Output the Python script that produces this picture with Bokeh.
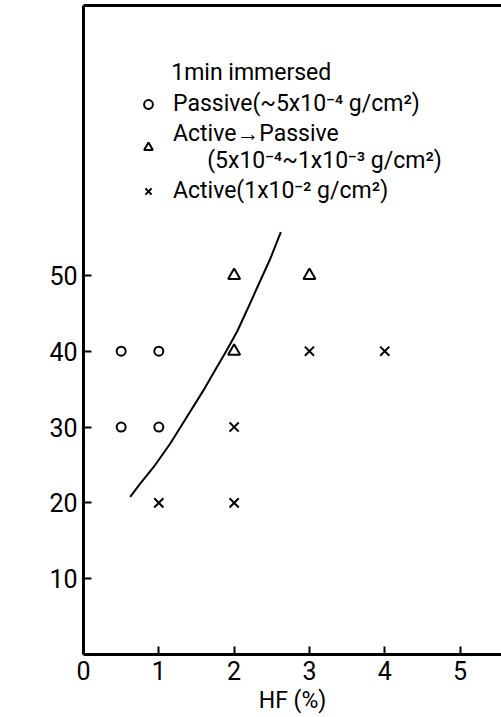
import math
from bokeh.plotting import figure
from bokeh.models import (Range1d, FixedTicker, LinearAxis, Label, Legend, LegendItem)
from bokeh.embed import file_html
from bokeh.resources import INLINE

FONT = "Roboto"

# ---- data ----
passive_hf = [0.5, 1.0, 0.5, 1.0]
passive_hno3 = [40, 40, 30, 30]

transition_hf = [2.0, 3.0, 2.0]
transition_hno3 = [50, 50, 40]

active_hf = [3.0, 4.0, 2.0, 1.0, 2.0]
active_hno3 = [40, 40, 30, 20, 20]

curve_hf = [0.62, 0.75, 0.93, 1.15, 1.37, 1.59, 1.77, 1.90, 2.04, 2.17, 2.32, 2.48, 2.62]
curve_hno3 = [20.8, 22.5, 24.7, 27.8, 31.3, 34.8, 37.9, 40.1, 42.6, 45.4, 48.7, 52.2, 55.7]

x_ticks = [0, 1, 2, 3, 4, 5]
y_ticks = [10, 20, 30, 40, 50]

p = figure(width=501, height=717, output_backend="svg", toolbar_location=None,
           x_range=Range1d(0, 5.55), y_range=Range1d(0, 85.6),
           min_border_left=83, min_border_right=0, min_border_top=5,
           min_border_bottom=63)
p.outline_line_color = None
p.xgrid.visible = False
p.ygrid.visible = False
p.background_fill_color = "white"
p.border_fill_color = "white"

for ax in (p.xaxis[0], p.yaxis[0]):
    ax.axis_line_width = 3
    ax.axis_line_color = "black"
    ax.major_tick_in = 8
    ax.major_tick_out = 0
    ax.major_tick_line_width = 2
    ax.minor_tick_line_color = None
    ax.major_label_text_font = FONT
    ax.major_label_text_font_size = "25px"
    ax.major_label_text_color = "black"

p.xaxis[0].ticker = FixedTicker(ticks=x_ticks)
p.yaxis[0].ticker = FixedTicker(ticks=y_ticks)
p.xaxis[0].major_label_standoff = 6
p.yaxis[0].major_label_standoff = 6
p.xaxis[0].axis_label = "HF (%)"
p.xaxis[0].axis_label_text_font = FONT
p.xaxis[0].axis_label_text_font_size = "23px"
p.xaxis[0].axis_label_text_font_style = "normal"
p.xaxis[0].axis_label_text_color = "black"
p.xaxis[0].axis_label_standoff = 4

# top border
top = LinearAxis(ticker=FixedTicker(ticks=[]), axis_line_width=3,
                 major_label_text_font_size="0px", major_tick_in=0,
                 major_tick_out=0, major_label_standoff=0)
p.add_layout(top, "above")

# y label placed lower like the reference
ylab = Label(x=-0.77, y=31.5, text="HNO\u2083(%)", angle=math.pi / 2,
             text_align="center", text_baseline="middle",
             text_font=FONT, text_font_size="24px", text_color="black")
p.add_layout(ylab)

# curve
p.line(curve_hf, curve_hno3, line_color="black", line_width=2)

r1 = p.scatter(passive_hf, passive_hno3, marker="circle", size=9,
               fill_color=None, line_color="black", line_width=2)
r2 = p.scatter(transition_hf, transition_hno3, marker="triangle", size=12,
               fill_color=None, line_color="black", line_width=2)
r3 = p.scatter(active_hf, active_hno3, marker="x", size=13,
               line_color="black", line_width=2)

nb = "\u00a0"
legend = Legend(items=[
    LegendItem(label="Passive(~5x10\u207b\u2074 g/cm\u00b2)", renderers=[r1]),
    LegendItem(label="Active\u2192Passive\n" + nb * 6 + "(5x10\u207b\u2074~1x10\u207b\u00b3 g/cm\u00b2)", renderers=[r2]),
    LegendItem(label="Active(1x10\u207b\u00b2 g/cm\u00b2)", renderers=[r3]),
], location=(54, 450))
legend.title = nb * 6 + "1min immersed"
legend.title_text_font = FONT
legend.title_text_font_size = "23px"
legend.title_text_font_style = "normal"
legend.title_text_color = "black"
legend.title_standoff = 4
legend.label_text_font = FONT
legend.label_text_font_size = "23px"
legend.label_text_color = "black"
legend.label_text_line_height = 1.45
legend.glyph_width = 22
legend.glyph_height = 24
legend.label_standoff = 14
legend.spacing = 3
legend.padding = 0
legend.margin = 0
legend.border_line_color = None
legend.background_fill_alpha = 0
p.add_layout(legend, "center")

open("out.html", "w").write(file_html(p, INLINE))
